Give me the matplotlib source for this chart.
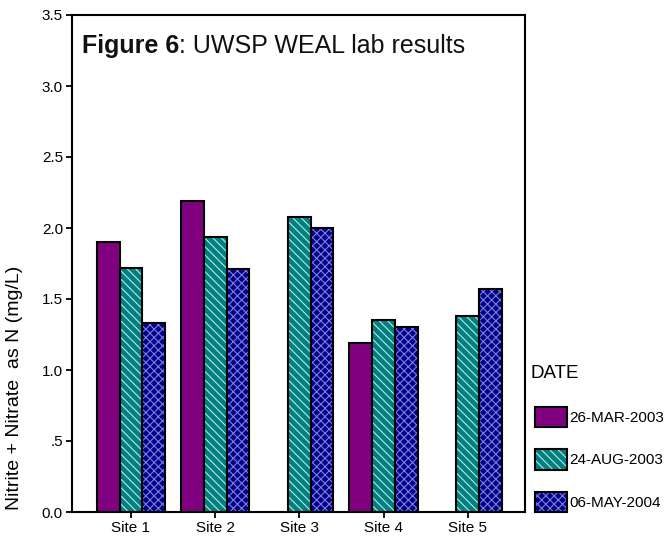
import numpy as np
import matplotlib
matplotlib.use("Agg")
import matplotlib.pyplot as plt
from matplotlib.patches import Patch
from matplotlib.legend_handler import HandlerTuple
from matplotlib.transforms import offset_copy

plt.rcParams['font.family'] = ['Liberation Sans', 'DejaVu Sans']
plt.rcParams['hatch.linewidth'] = 0.8

sites = ["Site 1", "Site 2", "Site 3", "Site 4", "Site 5"]
dates = ["26-MAR-2003", "24-AUG-2003", "06-MAY-2004"]
mar2003 = [1.90, 2.19, np.nan, 1.19, np.nan]
aug2003 = [1.72, 1.94, 2.08, 1.35, 1.38]
may2004 = [1.33, 1.71, 2.00, 1.30, 1.57]
series = [mar2003, aug2003, may2004]

y_ticks = [0.0, 0.5, 1.0, 1.5, 2.0, 2.5, 3.0, 3.5]
y_ticklabels = ["0.0", ".5", "1.0", "1.5", "2.0", "2.5", "3.0", "3.5"]

face_colors = ["#800080", "#008080", "#000090"]
hatch_colors = ["#a040a0", "#c0e4e4", "#8080d0"]
hatches = [None, "\\\\\\\\", "xxxx"]

W, H = 668, 538
fig = plt.figure(figsize=(W / 100, H / 100), dpi=100)
ax = fig.add_axes([72 / W, 1 - 512 / H, (525 - 72) / W, (512 - 15) / H])

x = np.arange(len(sites))
width = 0.27
offsets = [-width, 0.0, width]
handles = []
for vals, off, fc, hc, hh in zip(series, offsets, face_colors, hatch_colors, hatches):
    v = np.array(vals, dtype=float)
    mask = ~np.isnan(v)
    ax.bar(x[mask] + off, v[mask], width, color=fc, edgecolor=hc if hh else fc,
           hatch=hh, linewidth=0, zorder=2)
    ax.bar(x[mask] + off, v[mask], width, fill=False, edgecolor="black",
           linewidth=1.5, zorder=3)
    h1 = Patch(facecolor=fc, edgecolor=hc if hh else fc, hatch=hh, linewidth=0)
    h2 = Patch(fill=False, edgecolor="black", linewidth=1.5)
    handles.append((h1, h2))

ax.set_xlim(-0.70, 4.68)
ax.set_ylim(0, 3.5)
ax.set_yticks(y_ticks)
ax.set_yticklabels(y_ticklabels)
ax.set_xticks(x)
ax.set_xticklabels(sites)
ax.tick_params(axis='both', direction='out', length=4.5, width=1.3, labelsize=11,
               pad=2, colors='black')
for s in ax.spines.values():
    s.set_linewidth(1.5)

# title inside axes
tx, ty = 82 / W, 1 - 53 / H
t1 = ax.text(tx, ty, "Figure 6", transform=fig.transFigure,
             fontsize=18, fontweight='bold', va='baseline', ha='left', color='#111111')
fig.canvas.draw()
r = fig.canvas.get_renderer()
bb = t1.get_window_extent(r)
tr = offset_copy(fig.transFigure, fig=fig, x=bb.width * 72 / fig.dpi, y=0, units='points')
ax.text(tx, ty, ": UWSP WEAL lab results", transform=tr,
        fontsize=18, va='baseline', ha='left', color='#111111')

fig.text(15 / W, 1 - 388 / H, "Nitrite + Nitrate  as N (mg/L)", rotation=90,
         ha='center', va='center', fontsize=14)

fig.text(531 / W, 1 - 378 / H, "DATE", fontsize=13.5, ha='left', va='baseline')

leg = fig.legend(handles, dates, handler_map={tuple: HandlerTuple(ndivide=1)},
                 loc='upper left', bbox_to_anchor=(535 / W, 1 - 407 / H),
                 frameon=False, fontsize=11, borderpad=0, borderaxespad=0,
                 handlelength=2.1, handleheight=1.64, handletextpad=0.15,
                 labelspacing=1.47)

fig.savefig("out.png", dpi=100)
